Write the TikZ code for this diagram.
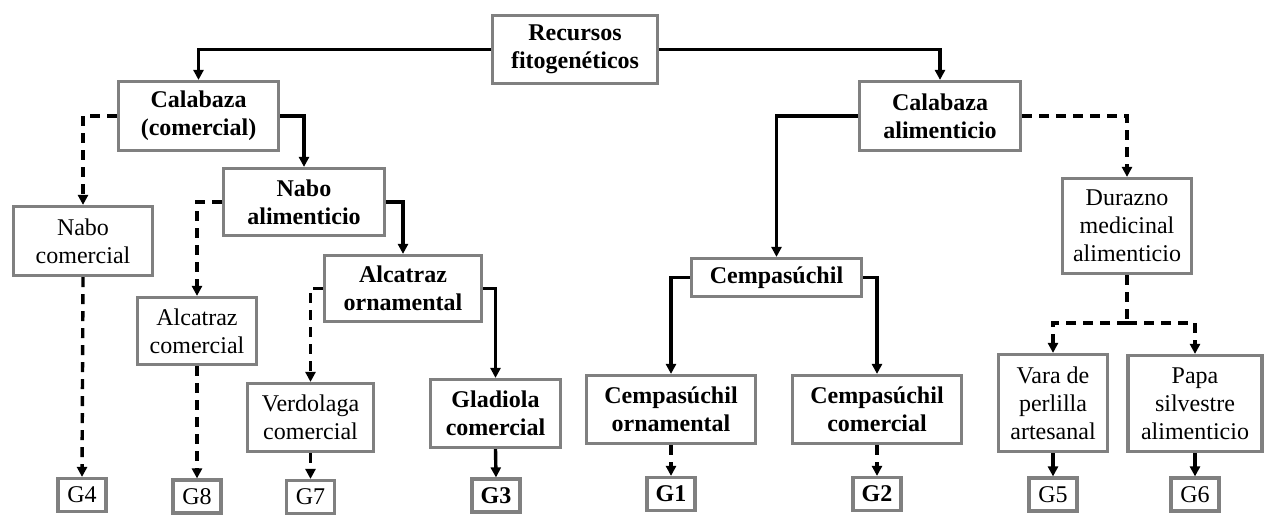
\documentclass[tikz,border=0pt]{standalone}
\usepackage{fontspec}
\setmainfont{Liberation Serif}
\usetikzlibrary{arrows.meta}
\definecolor{boxgray}{HTML}{808080}
\tikzset{
  box/.style={draw=boxgray, line width=3.2pt, fill=white, align=center,
    inner sep=0pt, font=\fontsize{24}{28}\selectfont},
  bbox/.style={box, font=\fontsize{24}{28}\selectfont\bfseries},
  gbox/.style={box, minimum width=48, minimum height=33},
  conn/.style={line width=3.4pt, -{Triangle[length=10pt,width=10pt]}},
  solidarrow/.style={conn},
  dasharrow/.style={conn, dash pattern=on 10pt off 7pt},
}
\begin{document}
\begin{tikzpicture}[x=1pt, y=-1pt]
\useasboundingbox (0,0) rectangle (1265,515);

% root
\node[bbox, minimum width=165, minimum height=68] (rec) at (575,49.5) {Recursos\\fitogenéticos};

% left branch
\node[bbox, minimum width=160, minimum height=69] (cc)  at (198.5,116) {Calabaza\\(comercial)};
\node[box,  minimum width=139, minimum height=69] (nc)  at (83,241) {Nabo\\comercial};
\node[bbox, minimum width=161, minimum height=67] (na)  at (304,202) {Nabo\\alimenticio};
\node[box,  minimum width=119, minimum height=67] (ac)  at (197,331) {Alcatraz\\comercial};
\node[bbox, minimum width=157, minimum height=66] (ao)  at (403,288.5) {Alcatraz\\ornamental};
\node[box,  minimum width=126, minimum height=68] (vc)  at (310.5,417.5) {Verdolaga\\comercial};
\node[bbox, minimum width=130, minimum height=68] (gc)  at (495.5,413.5) {Gladiola\\comercial};

% right branch
\node[bbox, minimum width=161, minimum height=69] (ca)  at (940,116) {Calabaza\\alimenticio};
\node[bbox, minimum width=170, minimum height=38] (ce)  at (776.5,277.5) {Cempasúchil};
\node[bbox, minimum width=169, minimum height=68] (ceo) at (671,409.5) {Cempasúchil\\ornamental};
\node[bbox, minimum width=169, minimum height=68] (cec) at (877,409.5) {Cempasúchil\\comercial};
\node[box,  minimum width=129, minimum height=95] (du)  at (1127,226) {Durazno\\medicinal\\alimenticio};
\node[box,  minimum width=109, minimum height=97] (va)  at (1053,403) {Vara de\\perlilla\\artesanal};
\node[box,  minimum width=134, minimum height=96] (pa)  at (1195,403.5) {Papa\\silvestre\\alimenticio};

% groups
\node[gbox] (g4) at (82,495) {G4};
\node[gbox] (g8) at (197,496.5) {G8};
\node[gbox] (g7) at (310.5,497) {G7};
\node[gbox, font=\fontsize{24}{28}\selectfont\bfseries] (g3) at (496,495.5) {G3};
\node[gbox, font=\fontsize{24}{28}\selectfont\bfseries] (g1) at (671,494) {G1};
\node[gbox, font=\fontsize{24}{28}\selectfont\bfseries] (g2) at (877,494) {G2};
\node[gbox] (g5) at (1053,494.5) {G5};
\node[gbox] (g6) at (1195,494.5) {G6};

\coordinate (split) at (1127,323);

% connectors from the root
\draw[solidarrow] (rec.west) -| (cc.north);
\draw[solidarrow] (rec.east) -| (ca.north);

% left branch connectors
\draw[dasharrow]  (cc.west) -| (nc.north);
\draw[dasharrow]  (nc.south) -- (g4.north);
\draw[solidarrow] (cc.east) -| (na.north);
\draw[dasharrow]  (na.west) -| (ac.north);
\draw[dasharrow]  (ac.south) -- (g8.north);
\draw[solidarrow] (na.east) -| (ao.north);
\draw[dasharrow]  (ao.west) -| (vc.north);
\draw[dasharrow]  (vc.south) -- (g7.north);
\draw[solidarrow] (ao.east) -| (gc.north);
\draw[solidarrow] (gc.south) -- (g3.north);

% right branch connectors
\draw[solidarrow] (ca.west) -| (ce.north);
\draw[solidarrow] (ce.west) -| (ceo.north);
\draw[solidarrow] (ce.east) -| (cec.north);
\draw[dasharrow]  (ceo.south) -- (g1.north);
\draw[dasharrow]  (cec.south) -- (g2.north);
\draw[dasharrow]  (ca.east) -| (du.north);
\draw[line width=3.4pt, dash pattern=on 10pt off 7pt] (du.south) -- (split);
\draw[dasharrow]  (split) -| (va.north);
\draw[dasharrow]  (split) -| (pa.north);
\draw[solidarrow] (va.south) -- (g5.north);
\draw[solidarrow] (pa.south) -- (g6.north);
\end{tikzpicture}
\end{document}
